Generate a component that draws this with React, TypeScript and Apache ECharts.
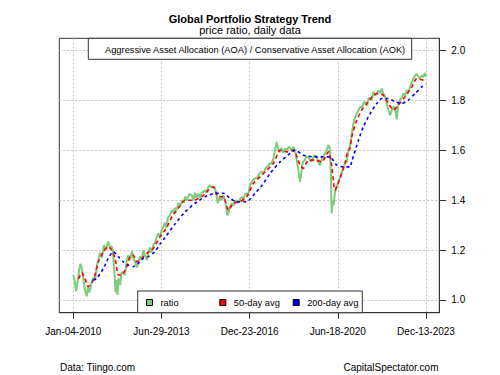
import React, { useEffect, useRef } from "react";
import * as echarts from "echarts";

const FONT = "'Liberation Sans', Arial, Helvetica, sans-serif";

const titleText = "Global Portfolio Strategy Trend";
const subtitleText = "price ratio, daily data";
const boxText = "Aggressive Asset Allocation (AOA) / Conservative Asset Allocation (AOK)";
const sourceText = "Data: Tiingo.com";
const creditText = "CapitalSpectator.com";
const seriesNames = ["ratio", "50-day avg", "200-day avg"];

// x positions are decimal years
const xTickValues = [2010.010, 2013.493, 2016.978, 2020.464, 2023.948];
const xTickLabels = ["Jan-04-2010", "Jun-29-2013", "Dec-23-2016", "Jun-18-2020", "Dec-13-2023"];
const yTickValues = [1.0, 1.2, 1.4, 1.6, 1.8, 2.0];
const yTickLabels = ["1.0", "1.2", "1.4", "1.6", "1.8", "2.0"];

const ratioYears = [
  2010.01, 2010.06, 2010.12, 2010.18, 2010.24, 2010.29, 2010.34, 2010.39, 2010.47, 2010.54,
  2010.59, 2010.65, 2010.71, 2010.80, 2010.87, 2010.95, 2011.07, 2011.14, 2011.22, 2011.30,
  2011.39, 2011.46, 2011.53, 2011.58, 2011.64, 2011.68, 2011.72, 2011.76, 2011.79, 2011.86,
  2011.92, 2011.99, 2012.05, 2012.11, 2012.18, 2012.25, 2012.32, 2012.37, 2012.45, 2012.52,
  2012.57, 2012.65, 2012.71, 2012.78, 2012.84, 2012.92, 2012.97, 2013.04, 2013.10, 2013.17,
  2013.24, 2013.30, 2013.37, 2013.44, 2013.50, 2013.57, 2013.63, 2013.69, 2013.75, 2013.83,
  2013.90, 2013.97, 2014.03, 2014.09, 2014.16, 2014.23, 2014.31, 2014.37, 2014.43, 2014.50,
  2014.58, 2014.69, 2014.76, 2014.82, 2014.88, 2014.95, 2015.02, 2015.08, 2015.15, 2015.22,
  2015.28, 2015.33, 2015.41, 2015.47, 2015.53, 2015.61, 2015.67, 2015.72, 2015.75, 2015.81,
  2015.87, 2015.94, 2016.01, 2016.07, 2016.10, 2016.14, 2016.18, 2016.27, 2016.34, 2016.40,
  2016.47, 2016.54, 2016.60, 2016.67, 2016.74, 2016.80, 2016.86, 2016.92, 2016.99, 2017.05,
  2017.11, 2017.19, 2017.27, 2017.35, 2017.46, 2017.53, 2017.59, 2017.66, 2017.73, 2017.79,
  2017.84, 2017.92, 2017.98, 2018.05, 2018.08, 2018.12, 2018.18, 2018.24, 2018.30, 2018.38,
  2018.46, 2018.52, 2018.58, 2018.64, 2018.71, 2018.77, 2018.84, 2018.89, 2018.93, 2018.97,
  2019.01, 2019.05, 2019.10, 2019.17, 2019.23, 2019.30, 2019.37, 2019.43, 2019.48, 2019.54,
  2019.63, 2019.68, 2019.72, 2019.76, 2019.82, 2019.88, 2019.96, 2020.02, 2020.09, 2020.13,
  2020.16, 2020.19, 2020.22, 2020.26, 2020.30, 2020.35, 2020.41, 2020.48, 2020.55, 2020.62,
  2020.68, 2020.75, 2020.82, 2020.88, 2020.95, 2021.01, 2021.08, 2021.14, 2021.21, 2021.28,
  2021.34, 2021.42, 2021.48, 2021.54, 2021.62, 2021.68, 2021.74, 2021.80, 2021.87, 2021.94,
  2022.00, 2022.07, 2022.13, 2022.20, 2022.25, 2022.33, 2022.39, 2022.46, 2022.50, 2022.53,
  2022.59, 2022.66, 2022.73, 2022.79, 2022.86, 2022.92, 2022.98, 2023.05, 2023.12, 2023.19,
  2023.25, 2023.32, 2023.38, 2023.45, 2023.52, 2023.58, 2023.65, 2023.71, 2023.78, 2023.84,
  2023.90, 2023.95,
];
const ratioValues = [
  1.100, 1.080, 1.035, 1.070, 1.120, 1.145, 1.130, 1.100, 1.040, 1.015,
  1.050, 1.030, 1.060, 1.090, 1.080, 1.140, 1.190, 1.170, 1.220, 1.200,
  1.235, 1.210, 1.215, 1.190, 1.100, 1.030, 1.080, 1.020, 1.087, 1.060,
  1.110, 1.113, 1.100, 1.150, 1.180, 1.160, 1.195, 1.170, 1.153, 1.130,
  1.150, 1.175, 1.160, 1.200, 1.180, 1.160, 1.187, 1.210, 1.190, 1.220,
  1.230, 1.250, 1.267, 1.250, 1.280, 1.294, 1.310, 1.290, 1.330, 1.340,
  1.360, 1.350, 1.370, 1.360, 1.388, 1.380, 1.400, 1.390, 1.414, 1.400,
  1.425, 1.420, 1.400, 1.430, 1.410, 1.425, 1.410, 1.430, 1.434, 1.440,
  1.430, 1.450, 1.461, 1.450, 1.455, 1.448, 1.420, 1.388, 1.400, 1.414,
  1.400, 1.420, 1.400, 1.360, 1.340, 1.347, 1.370, 1.388, 1.380, 1.395,
  1.400, 1.390, 1.405, 1.414, 1.405, 1.425, 1.428, 1.420, 1.461, 1.470,
  1.480, 1.488, 1.490, 1.505, 1.514, 1.510, 1.525, 1.534, 1.540, 1.550,
  1.545, 1.568, 1.600, 1.634, 1.620, 1.600, 1.594, 1.610, 1.590, 1.608,
  1.600, 1.615, 1.608, 1.600, 1.614, 1.600, 1.561, 1.530, 1.500, 1.474,
  1.500, 1.540, 1.554, 1.565, 1.575, 1.574, 1.560, 1.554, 1.570, 1.580,
  1.574, 1.560, 1.545, 1.541, 1.560, 1.575, 1.588, 1.600, 1.621, 1.615,
  1.594, 1.500, 1.347, 1.400, 1.380, 1.434, 1.450, 1.474, 1.490, 1.514,
  1.530, 1.550, 1.554, 1.600, 1.621, 1.660, 1.708, 1.730, 1.748, 1.760,
  1.775, 1.770, 1.790, 1.795, 1.780, 1.810, 1.808, 1.800, 1.835, 1.820,
  1.828, 1.840, 1.830, 1.848, 1.830, 1.815, 1.790, 1.762, 1.750, 1.741,
  1.760, 1.775, 1.770, 1.725, 1.790, 1.802, 1.810, 1.828, 1.820, 1.842,
  1.835, 1.855, 1.870, 1.888, 1.900, 1.908, 1.895, 1.888, 1.900, 1.895,
  1.910, 1.895,
];

const ma50Years = [
  2010.22, 2010.34, 2010.47, 2010.60, 2010.80, 2011.00, 2011.20, 2011.39, 2011.53, 2011.66,
  2011.79, 2011.92, 2012.12, 2012.25, 2012.38, 2012.52, 2012.71, 2012.91, 2013.17, 2013.44,
  2013.70, 2013.91, 2014.16, 2014.43, 2014.75, 2015.09, 2015.35, 2015.54, 2015.74, 2015.94,
  2016.14, 2016.34, 2016.60, 2016.86, 2017.13, 2017.46, 2017.59, 2017.92, 2018.18, 2018.45,
  2018.71, 2018.97, 2019.10, 2019.30, 2019.56, 2019.83, 2020.09, 2020.22, 2020.35, 2020.55,
  2020.75, 2020.82, 2020.95, 2021.01, 2021.21, 2021.41, 2021.61, 2021.87, 2022.07, 2022.26,
  2022.46, 2022.66, 2022.86, 2023.12, 2023.39, 2023.58, 2023.84, 2023.95,
];
const ma50Values = [
  1.085, 1.110, 1.087, 1.053, 1.080, 1.153, 1.194, 1.214, 1.200, 1.167,
  1.100, 1.100, 1.133, 1.174, 1.180, 1.153, 1.167, 1.187, 1.207, 1.254,
  1.290, 1.335, 1.368, 1.400, 1.400, 1.414, 1.441, 1.454, 1.414, 1.414,
  1.360, 1.388, 1.394, 1.414, 1.468, 1.501, 1.514, 1.548, 1.601, 1.594,
  1.601, 1.541, 1.528, 1.561, 1.561, 1.554, 1.594, 1.541, 1.441, 1.488,
  1.548, 1.585, 1.610, 1.654, 1.721, 1.762, 1.788, 1.822, 1.828, 1.822,
  1.788, 1.762, 1.782, 1.815, 1.855, 1.888, 1.882, 1.882,
];

const ma200Years = [
  2010.80, 2010.94, 2011.20, 2011.39, 2011.59, 2011.79, 2011.99, 2012.18, 2012.38, 2012.58,
  2012.78, 2012.97, 2013.24, 2013.44, 2013.63, 2014.03, 2014.43, 2014.82, 2015.22, 2015.61,
  2015.94, 2016.20, 2016.47, 2016.86, 2017.19, 2017.47, 2017.79, 2018.18, 2018.58, 2018.77,
  2019.10, 2019.50, 2019.89, 2020.16, 2020.42, 2020.68, 2020.95, 2021.01, 2021.28, 2021.47,
  2021.74, 2022.00, 2022.20, 2022.46, 2022.73, 2022.99, 2023.25, 2023.52, 2023.78, 2023.95,
];
const ma200Values = [
  1.080, 1.087, 1.127, 1.167, 1.194, 1.174, 1.153, 1.140, 1.134, 1.147,
  1.167, 1.174, 1.194, 1.225, 1.250, 1.305, 1.354, 1.388, 1.414, 1.428,
  1.428, 1.408, 1.394, 1.394, 1.428, 1.460, 1.508, 1.554, 1.588, 1.601,
  1.581, 1.574, 1.574, 1.574, 1.541, 1.534, 1.534, 1.555, 1.641, 1.694,
  1.748, 1.788, 1.808, 1.808, 1.795, 1.788, 1.802, 1.828, 1.855, 1.866,
];

const seriesColors = ["#7ccc7c", "#ff0000", "#0000ff"];

// layout: R extends the date range by 4% on each side
const X_SPAN = xTickValues[xTickValues.length - 1] - xTickValues[0];
const X_MIN = xTickValues[0] - X_SPAN * 0.0397;
const X_MAX = xTickValues[xTickValues.length - 1] + X_SPAN * 0.0377;
const Y_MIN = 0.949;
const Y_MAX = 2.0497;

const pairs = (xs: number[], ys: number[]) => xs.map((x, i) => [x, ys[i]]);
const lookup = (vals: number[], labels: string[]) => (v: number) => {
  let best = 0;
  for (let i = 1; i < vals.length; i++) {
    if (Math.abs(vals[i] - v) < Math.abs(vals[best] - v)) best = i;
  }
  return labels[best];
};

function buildOption(): any {
  const gridLine = { color: "#c4c4c4", type: [2, 2], width: 1 };
  const legendBase = {
    top: 298,
    padding: 0,
    icon: "rect",
    itemWidth: 6,
    itemHeight: 6,
    z: 20,
    selectedMode: false,
    itemStyle: { borderColor: "#000", borderWidth: 1, borderType: "solid" },
    textStyle: { fontSize: 9.3, color: "#000", fontFamily: FONT, padding: [0, 0, 0, 3] },
  };
  return {
    animation: false,
    backgroundColor: "#ffffff",
    textStyle: { fontFamily: FONT },
    title: [
      {
        text: titleText,
        left: "center",
        top: 13.6,
        padding: 0,
        textStyle: { fontSize: 11, fontWeight: "bold", color: "#000", fontFamily: FONT },
      },
      {
        text: subtitleText,
        left: "center",
        top: 24.6,
        padding: 0,
        textStyle: { fontSize: 11, fontWeight: "normal", color: "#000", fontFamily: FONT },
      },
    ],
    grid: {
      left: 59.3,
      top: 38.3,
      width: 380,
      height: 274.4,
      show: true,
      borderColor: "#333",
      borderWidth: 1,
      backgroundColor: "transparent",
      containLabel: false,
      outerBoundsMode: "none",
    },
    xAxis: {
      type: "value",
      min: X_MIN,
      max: X_MAX,
      axisLine: { show: true, onZero: false, lineStyle: { color: "#333", width: 1 } },
      axisTick: { show: true, inside: false, length: 6, lineStyle: { color: "#333" }, customValues: xTickValues },
      axisLabel: {
        customValues: xTickValues,
        formatter: lookup(xTickValues, xTickLabels),
        margin: 14,
        fontSize: 10,
        color: "#000",
        fontFamily: FONT,
        hideOverlap: false,
      },
      splitLine: { show: true, lineStyle: gridLine },
    },
    yAxis: {
      type: "value",
      position: "right",
      min: Y_MIN,
      max: Y_MAX,
      axisLine: { show: true, onZero: false, lineStyle: { color: "#333", width: 1 } },
      axisTick: { show: true, inside: false, length: 7, lineStyle: { color: "#333" }, customValues: yTickValues },
      axisLabel: {
        customValues: yTickValues,
        formatter: lookup(yTickValues, yTickLabels),
        margin: 12,
        fontSize: 10,
        color: "#000",
        fontFamily: FONT,
        hideOverlap: false,
      },
      splitLine: { show: true, lineStyle: gridLine },
    },
    legend: [
      { ...legendBase, left: 146, data: [seriesNames[0]] },
      { ...legendBase, left: 219.3, data: [seriesNames[1]] },
      { ...legendBase, left: 292.7, data: [seriesNames[2]] },
    ],
    series: [
      {
        name: seriesNames[0],
        type: "line",
        data: pairs(ratioYears, ratioValues),
        showSymbol: false,
        symbol: "none",
        itemStyle: { color: seriesColors[0] },
        lineStyle: { color: seriesColors[0], width: 2 },
        z: 2,
      },
      {
        name: seriesNames[1],
        type: "line",
        data: pairs(ma50Years, ma50Values),
        showSymbol: false,
        symbol: "none",
        smooth: 0.2,
        itemStyle: { color: seriesColors[1] },
        lineStyle: { color: seriesColors[1], width: 1.6, type: [4, 3] },
        z: 3,
      },
      {
        name: seriesNames[2],
        type: "line",
        data: pairs(ma200Years, ma200Values),
        showSymbol: false,
        symbol: "none",
        smooth: 0.2,
        itemStyle: { color: seriesColors[2] },
        lineStyle: { color: seriesColors[2], width: 1.6, type: [3, 3] },
        z: 4,
      },
    ],
    graphic: [
      {
        type: "rect",
        z: 10,
        shape: { x: 88.3, y: 38.3, width: 323.4, height: 21 },
        style: { fill: "#fff", stroke: "#333", lineWidth: 1 },
      },
      {
        type: "text",
        z: 11,
        style: {
          text: boxText,
          x: 105,
          y: 50.4,
          fontSize: 9.3,
          fontFamily: FONT,
          fill: "#000",
          verticalAlign: "middle",
          align: "left",
        },
      },
      {
        type: "rect",
        z: 10,
        shape: { x: 137.7, y: 291, width: 224.6, height: 21.7 },
        style: { fill: "#fff", stroke: "#333", lineWidth: 1 },
      },
      {
        type: "text",
        z: 11,
        style: {
          text: sourceText,
          x: 60,
          y: 367,
          fontSize: 10,
          fontFamily: FONT,
          fill: "#000",
          verticalAlign: "middle",
          align: "left",
        },
      },
      {
        type: "text",
        z: 11,
        style: {
          text: creditText,
          x: 438.5,
          y: 367,
          fontSize: 10,
          fontFamily: FONT,
          fill: "#000",
          verticalAlign: "middle",
          align: "right",
        },
      },
    ],
  };
}

export default function App() {
  const ref = useRef<HTMLDivElement>(null);
  useEffect(() => {
    document.body.style.margin = "0";
    if (!ref.current) return;
    const chart = echarts.init(ref.current, null, { renderer: "svg" });
    chart.setOption(buildOption());
    return () => chart.dispose();
  }, []);
  return <div ref={ref} style={{ width: 500, height: 375, background: "#fff" }} />;
}
